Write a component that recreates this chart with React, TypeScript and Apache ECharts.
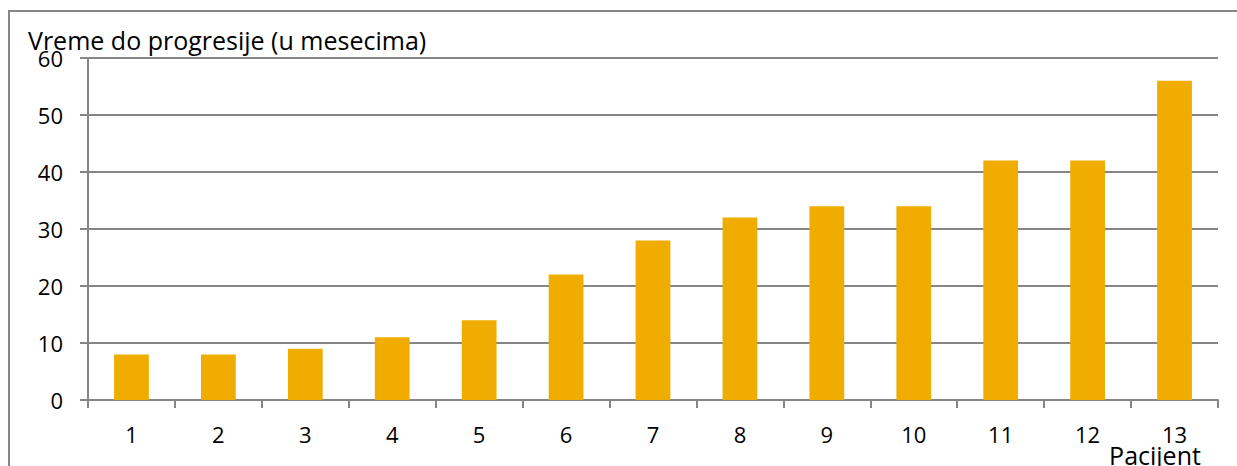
import React, { useEffect, useRef } from "react";
import * as echarts from "echarts";

const categories = ["1", "2", "3", "4", "5", "6", "7", "8", "9", "10", "11", "12", "13"];
const values = [8, 8, 9, 11, 14, 22, 28, 32, 34, 34, 42, 42, 56];
const yTitle = "Vreme do progresije (u mesecima)";
const xTitle = "Pacijent";

const FONT = "'Open Sans'";
const GRAY = "#868686";

export default function App() {
  const ref = useRef<HTMLDivElement>(null);
  useEffect(() => {
    const chart = echarts.init(ref.current!, undefined, { renderer: "svg" });
    chart.setOption({
      animation: false,
      backgroundColor: "#ffffff",
      textStyle: { fontFamily: FONT },
      grid: { left: 88, top: 58, right: 19, bottom: 66, containLabel: false },
      xAxis: {
        type: "category",
        data: categories,
        axisLine: { lineStyle: { color: GRAY, width: 2 } },
        axisTick: { show: true, length: 8, lineStyle: { color: GRAY, width: 2 }, alignWithLabel: false },
        axisLabel: { color: "#000", fontSize: 22, fontFamily: FONT, margin: 23 },
        splitLine: { show: false },
      },
      yAxis: {
        type: "value",
        min: 0,
        max: 60,
        interval: 10,
        axisLine: { show: true, lineStyle: { color: GRAY, width: 2 } },
        axisTick: { show: true, length: 8, lineStyle: { color: GRAY, width: 2 } },
        axisLabel: { color: "#000", fontSize: 22, fontFamily: FONT, margin: 25 },
        splitLine: { show: true, lineStyle: { color: GRAY, width: 2 } },
      },
      series: [
        {
          type: "bar",
          data: values,
          barWidth: "40%",
          itemStyle: { color: "#F0AD00" },
        },
      ],
      graphic: [
        {
          type: "rect",
          shape: { x: 9, y: 11, width: 1300, height: 600 },
          style: { fill: "none", stroke: GRAY, lineWidth: 2 },
          silent: true,
        },
        {
          type: "text",
          x: 28,
          y: 27,
          style: { text: yTitle, fill: "#000", font: `25px ${FONT}`, textVerticalAlign: "top" },
        },
        {
          type: "text",
          x: 1155,
          y: 442,
          style: { text: xTitle, fill: "#000", font: `25px ${FONT}`, textAlign: "center", textVerticalAlign: "top" },
        },
      ],
    });
    return () => chart.dispose();
  }, []);
  return <div ref={ref} style={{ position: "fixed", left: 0, top: 0, width: 1237, height: 466 }} />;
}
